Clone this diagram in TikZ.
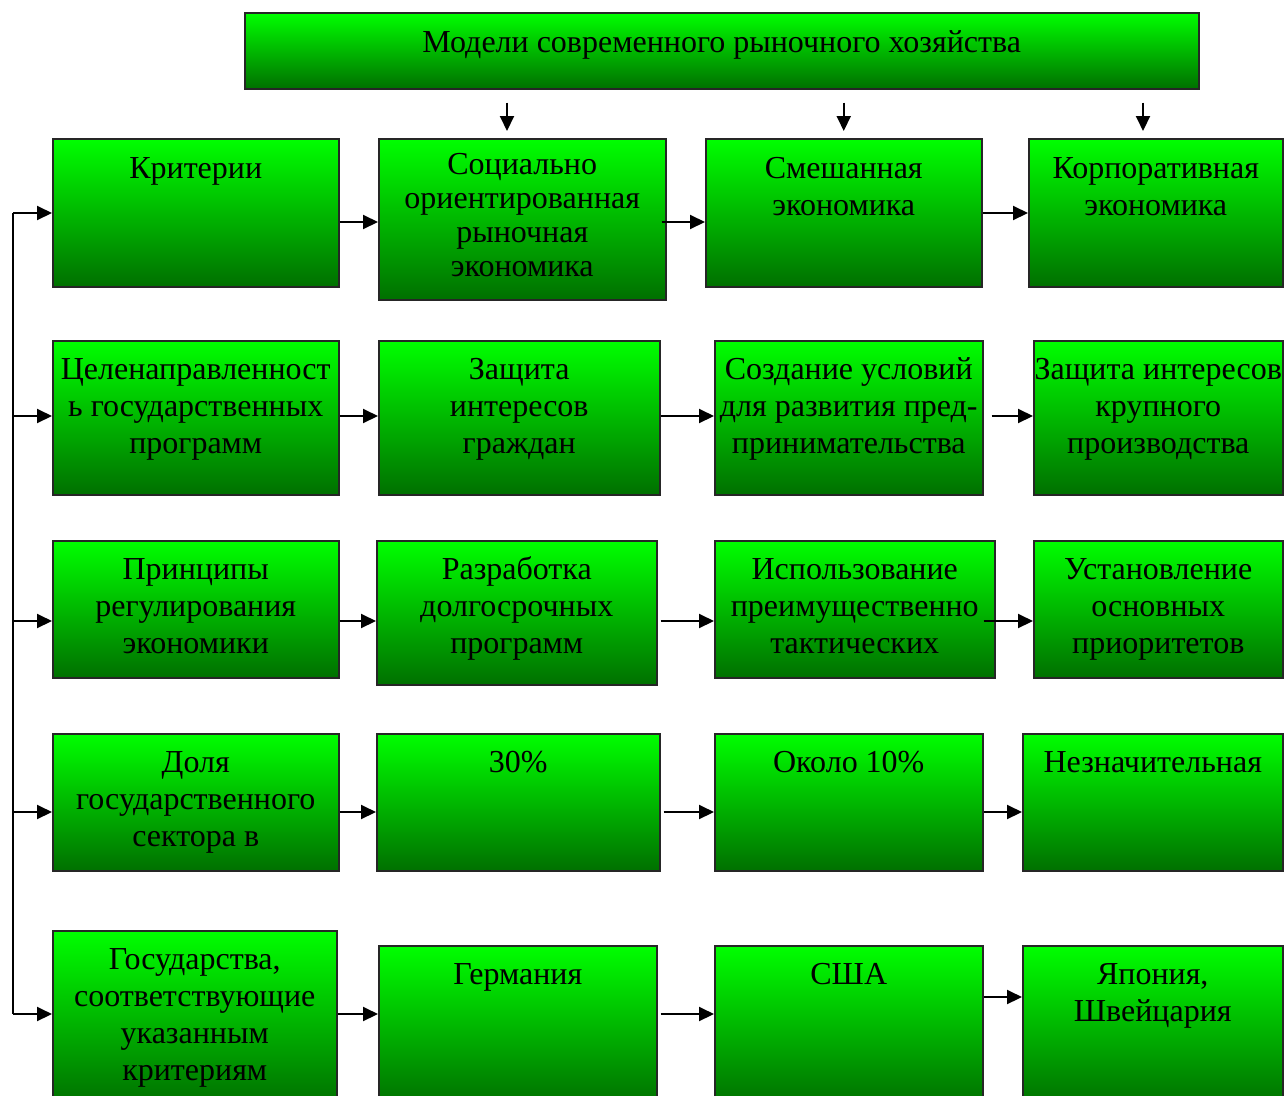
\documentclass[tikz,border=0pt]{standalone}
\usepackage{fontspec}
\setmainfont{Liberation Serif}
\usetikzlibrary{arrows.meta}
\definecolor{lgreen}{RGB}{0,255,0}
\definecolor{dgreen}{RGB}{0,112,0}
\tikzset{
  cell/.style={draw=black!85, line width=1.5pt, top color=lgreen, bottom color=dgreen,
    anchor=north west, inner sep=0pt, align=flush center, text height=39pt,
    font=\fontsize{32}{37}\selectfont},
  arr/.style={line width=2pt, -{Triangle[length=15pt,width=14pt]}},
  lin/.style={line width=2pt}
}
\begin{document}
\begin{tikzpicture}[x=1pt,y=-1pt]
  \useasboundingbox (0,0) rectangle (1284,1095);
  \node[cell, text width=954pt, text depth=36pt, text height=40pt] (top) at (244,12)
    {Модели современного рыночного хозяйства};

  % row 1
  \node[cell, text width=286pt, text depth=108pt, text height=40pt] (k1) at (52,138) {Критерии};
  \node[cell, text width=287pt, text depth=125pt, text height=36pt,
        font=\fontsize{32}{34}\selectfont] (k2) at (378,138)
    {Социально\\ориентированная\\рыночная\\экономика};
  \node[cell, text width=276pt, text depth=108pt, text height=40pt] (k3) at (705,138)
    {Смешанная\\экономика};
  \node[cell, text width=254pt, text depth=108pt, text height=40pt] (k4) at (1028,138)
    {Корпоративная\\экономика};

  % row 2
  \node[cell, text width=286pt, text depth=115pt] (c1) at (52,340)
    {\mbox{Целенаправленност}\\\mbox{ь государственных}\\программ};
  \node[cell, text width=281pt, text depth=115pt] (c2) at (378,340) {Защита\\интересов\\граждан};
  \node[cell, text width=268pt, text depth=115pt] (c3) at (714,340)
    {\mbox{Создание условий}\\\mbox{для развития пред-}\\принимательства};
  \node[cell, text width=249pt, text depth=115pt] (c4) at (1033,340)
    {\mbox{Защита интересов}\\крупного\\производства};

  % row 3
  \node[cell, text width=286pt, text depth=98pt] (p1) at (52,540) {Принципы\\регулирования\\экономики};
  \node[cell, text width=280pt, text depth=105pt] (p2) at (376,540) {Разработка\\долгосрочных\\программ};
  \node[cell, text width=280pt, text depth=98pt] (p3) at (714,540)
    {Использование\\\mbox{преимущественно}\\тактических};
  \node[cell, text width=249pt, text depth=98pt] (p4) at (1033,540) {Установление\\основных\\приоритетов};

  % row 4
  \node[cell, text width=286pt, text depth=98pt] (d1) at (52,733)
    {Доля\\\mbox{государственного}\\сектора в};
  \node[cell, text width=283pt, text depth=98pt] (d2) at (376,733) {30\%};
  \node[cell, text width=268pt, text depth=98pt] (d3) at (714,733) {Около 10\%};
  \node[cell, text width=260pt, text depth=98pt] (d4) at (1022,733) {Незначительная};

  % row 5
  \node[cell, text width=284pt, text depth=135pt] (g1) at (52,930)
    {Государства,\\\mbox{соответствующие}\\указанным\\критериям};
  \node[cell, text width=278pt, text depth=120pt] (g2) at (378,945) {Германия};
  \node[cell, text width=268pt, text depth=120pt] (g3) at (714,945) {США};
  \node[cell, text width=260pt, text depth=120pt] (g4) at (1022,945) {Япония,\\Швейцария};

  % arrows from the top box
  \draw[arr] ([yshift=-13pt]top.south -| 507,0) -- ([yshift=7pt]k2.north -| 507,0);
  \draw[arr] ([yshift=-13pt]top.south -| k3.north) -- ([yshift=7pt]k3.north);
  \draw[arr] ([yshift=-13pt]top.south -| 1143,0) -- ([yshift=7pt]k4.north -| 1143,0);

  % left line
  \coordinate (l1) at (13,213);
  \coordinate (l2) at (13,416);
  \coordinate (l3) at (13,621);
  \coordinate (l4) at (13,812);
  \coordinate (l5) at (13,1014);
  \draw[lin] (l1) -- (l5);
  \draw[arr] (l1) -- (l1 -| k1.west);
  \draw[arr] (l2) -- (l2 -| c1.west);
  \draw[arr] (l3) -- (l3 -| p1.west);
  \draw[arr] (l4) -- (l4 -| d1.west);
  \draw[arr] (l5) -- (l5 -| g1.west);

  % arrows along the rows
  \draw[arr] (k1.east |- 0,222) -- (k2.west |- 0,222);
  \draw[arr] ([xshift=-5pt]k2.east |- 0,222) -- (k3.west |- 0,222);
  \draw[arr] (k3.east |- 0,213) -- (k4.west |- 0,213);
  \draw[arr] (c1.east |- 0,416) -- (c2.west |- 0,416);
  \draw[arr] (c2.east |- 0,416) -- (c3.west |- 0,416);
  \draw[arr] ([xshift=8pt]c3.east |- 0,416) -- (c4.west |- 0,416);
  \draw[arr] (p1.east |- 0,621) -- (p2.west |- 0,621);
  \draw[arr] ([xshift=3pt]p2.east |- 0,621) -- (p3.west |- 0,621);
  \draw[arr] ([xshift=-12pt]p3.east |- 0,621) -- (p4.west |- 0,621);
  \draw[arr] (d1.east |- 0,812) -- (d2.west |- 0,812);
  \draw[arr] ([xshift=3pt]d2.east |- 0,812) -- (d3.west |- 0,812);
  \draw[arr] (d3.east |- 0,812) -- (d4.west |- 0,812);
  \draw[arr] (g1.east |- 0,1014) -- (g2.west |- 0,1014);
  \draw[arr] ([xshift=3pt]g2.east |- 0,1014) -- (g3.west |- 0,1014);
  \draw[arr] (g3.east |- 0,997) -- (g4.west |- 0,997);
\end{tikzpicture}
\end{document}
